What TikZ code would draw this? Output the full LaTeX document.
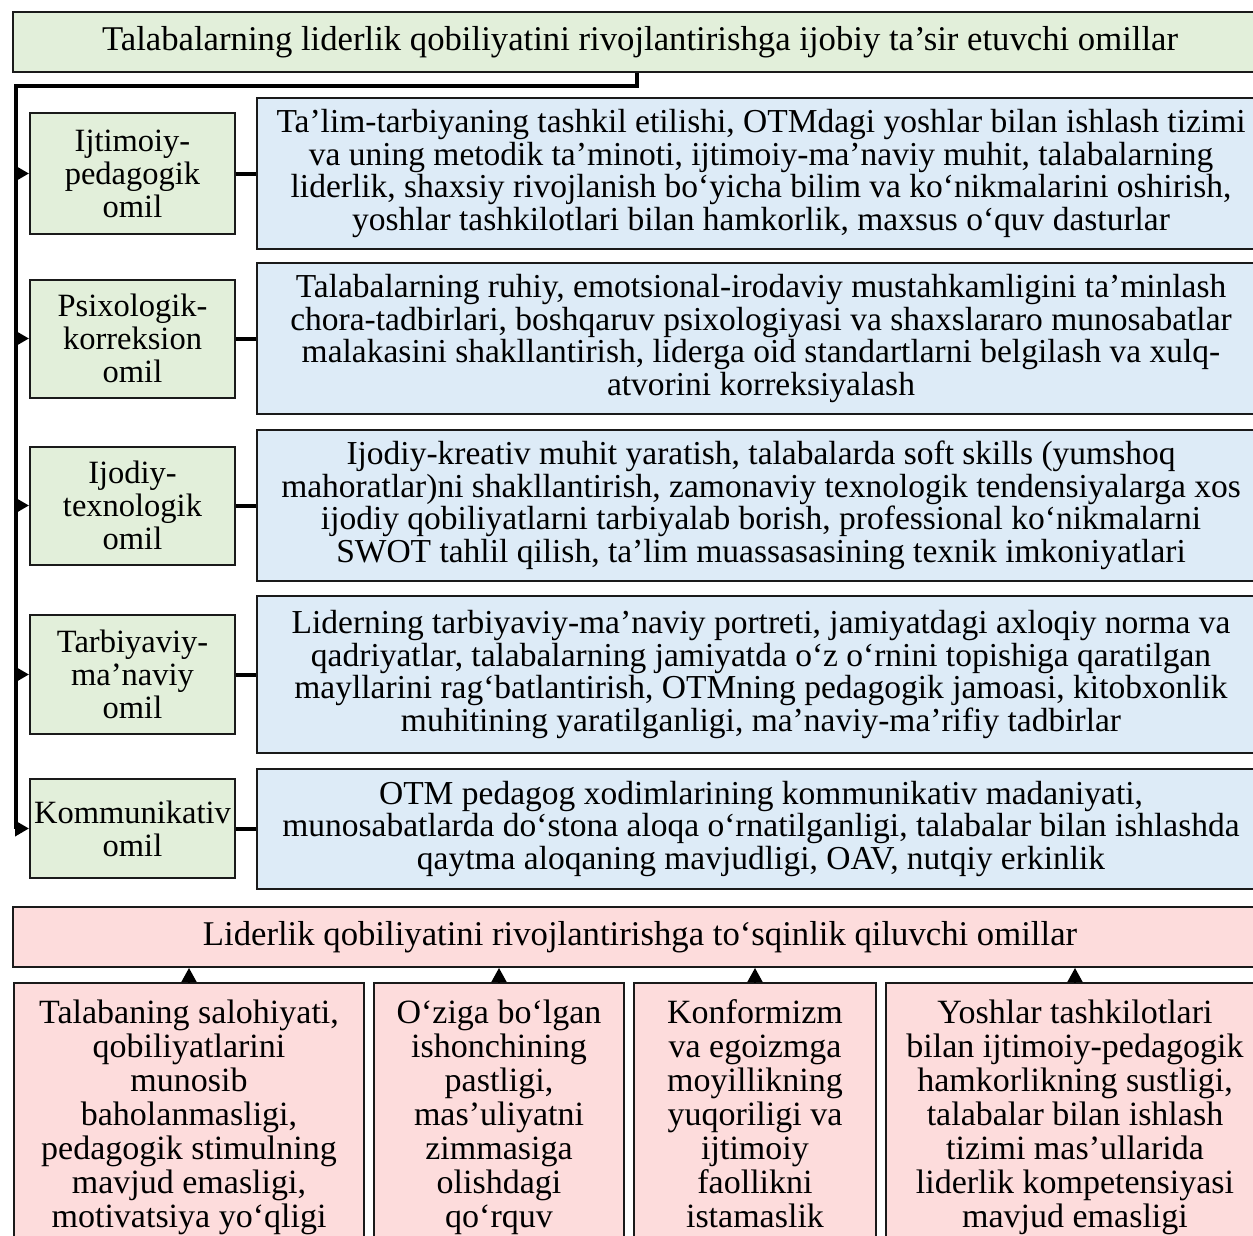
\documentclass[tikz,border=0pt]{standalone}
\usepackage{fontspec}
\setmainfont{Liberation Serif}
\usetikzlibrary{arrows.meta}
\definecolor{gfill}{HTML}{E2EFDA}
\definecolor{bfill}{HTML}{DDEBF7}
\definecolor{pfill}{HTML}{FDDCDC}
\definecolor{edge}{HTML}{1A1A1A}
\tikzset{
  basebox/.style={draw=edge, line width=2pt, align=center, inner sep=0pt},
  gbox/.style={basebox, fill=gfill, font=\fontsize{32.5}{33}\selectfont},
  bbox/.style={basebox, fill=bfill, font=\fontsize{33.5}{32.5}\selectfont},
  pbox/.style={basebox, fill=pfill, font=\fontsize{34}{34}\selectfont},
  headfont/.style={font=\fontsize{34.7}{34}\selectfont},
  conn/.style={line width=4pt, draw=black},
  tip/.style={-{Triangle[length=14pt,width=15pt]}},
}
\begin{document}
\begin{tikzpicture}[x=1pt,y=-1pt]
\useasboundingbox (0,0) rectangle (1253,1236);
\clip (0,0) rectangle (1253,1236);
\fill[white] (0,0) rectangle (1253,1236);

% top title
\node[gbox, headfont, minimum width=1254, minimum height=60] (title) at (640,42)
  {Talabalarning liderlik qobiliyatini rivojlantirishga ijobiy ta’sir etuvchi omillar};

% blue description boxes
\node[bbox, minimum width=1008, minimum height=151] (b1) at (761,173.5)
  {Ta’lim-tarbiyaning tashkil etilishi, OTMdagi yoshlar bilan ishlash tizimi\\
   va uning metodik ta’minoti, ijtimoiy-ma’naviy muhit, talabalarning\\
   liderlik, shaxsiy rivojlanish bo‘yicha bilim va ko‘nikmalarini oshirish,\\
   yoshlar tashkilotlari bilan hamkorlik, maxsus o‘quv dasturlar};
\node[bbox, minimum width=1008, minimum height=151] (b2) at (761,338.5)
  {Talabalarning ruhiy, emotsional-irodaviy mustahkamligini ta’minlash\\
   chora-tadbirlari, boshqaruv psixologiyasi va shaxslararo munosabatlar\\
   malakasini shakllantirish, liderga oid standartlarni belgilash va xulq-\\
   atvorini korreksiyalash};
\node[bbox, minimum width=1008, minimum height=151] (b3) at (761,505.5)
  {Ijodiy-kreativ muhit yaratish, talabalarda soft skills (yumshoq\\
   mahoratlar)ni shakllantirish, zamonaviy texnologik tendensiyalarga xos\\
   ijodiy qobiliyatlarni tarbiyalab borish, professional ko‘nikmalarni\\
   SWOT tahlil qilish, ta’lim muassasasining texnik imkoniyatlari};
\node[bbox, minimum width=1008, minimum height=157] (b4) at (761,674.5)
  {Liderning tarbiyaviy-ma’naviy portreti, jamiyatdagi axloqiy norma va\\
   qadriyatlar, talabalarning jamiyatda o‘z o‘rnini topishiga qaratilgan\\
   mayllarini rag‘batlantirish, OTMning pedagogik jamoasi, kitobxonlik\\
   muhitining yaratilganligi, ma’naviy-ma’rifiy tadbirlar};
\node[bbox, minimum width=1008, minimum height=120] (b5) at (761,828.5)
  {OTM pedagog xodimlarining kommunikativ madaniyati,\\
   munosabatlarda do‘stona aloqa o‘rnatilganligi, talabalar bilan ishlashda\\
   qaytma aloqaning mavjudligi, OAV, nutqiy erkinlik};

% green factor boxes
\node[gbox, minimum width=205, minimum height=121] (g1) at (132.5,173.5) {Ijtimoiy-\\pedagogik\\omil};
\node[gbox, minimum width=205, minimum height=118] (g2) at (132.5,338.5) {Psixologik-\\korreksion\\omil};
\node[gbox, minimum width=205, minimum height=118] (g3) at (132.5,505.5) {Ijodiy-\\texnologik\\omil};
\node[gbox, minimum width=205, minimum height=119] (g4) at (132.5,674.5) {Tarbiyaviy-\\ma’naviy\\omil};
\node[gbox, minimum width=205, minimum height=99] (g5) at (132.5,828.5) {Kommunikativ\\omil};

% trunk connector
\coordinate (kink) at (637,86);
\coordinate (trunk) at (16,86);
\draw[conn, tip] (title.south -| kink) -- (kink) -- (trunk) |- (g5.west);
\foreach \g in {g1,g2,g3,g4}{
  \draw[conn, tip] (trunk |- \g.west) -- (\g.west);
}
\foreach \i in {1,...,5}{
  \draw[conn] (g\i.east) -- (b\i.west);
}

% hindering factors
\node[pbox, headfont, minimum width=1254, minimum height=60] (hind) at (640,937)
  {Liderlik qobiliyatini rivojlantirishga to‘sqinlik qiluvchi omillar};

\node[pbox, minimum width=350, minimum height=272] (h1) at (189,1119)
  {\strut Talabaning salohiyati,\\qobiliyatlarini\\munosib\\baholanmasligi,\\pedagogik stimulning\\mavjud emasligi,\\motivatsiya yo‘qligi\strut};
\node[pbox, minimum width=250, minimum height=272] (h2) at (499,1119)
  {\strut O‘ziga bo‘lgan\\ishonchining\\pastligi,\\mas’uliyatni\\zimmasiga\\olishdagi\\qo‘rquv\strut};
\node[pbox, minimum width=242, minimum height=272] (h3) at (755,1119)
  {\strut Konformizm\\va egoizmga\\moyillikning\\yuqoriligi va\\ijtimoiy\\faollikni\\istamaslik\strut};
\node[pbox, minimum width=378, minimum height=272] (h4) at (1075,1119)
  {\strut Yoshlar tashkilotlari\\bilan ijtimoiy-pedagogik\\hamkorlikning sustligi,\\talabalar bilan ishlash\\tizimi mas’ullarida\\liderlik kompetensiyasi\\mavjud emasligi\strut};

\foreach \i in {1,...,4}{
  \draw[line width=1.5pt, tip] (h\i.north) -- (h\i.north |- hind.south);
}
\end{tikzpicture}
\end{document}
